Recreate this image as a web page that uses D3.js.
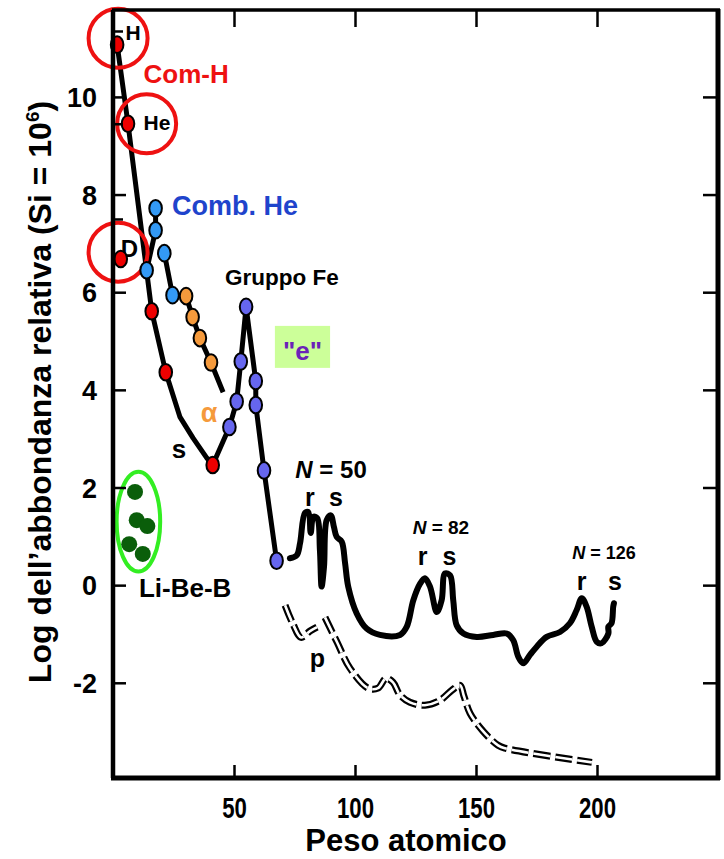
<!DOCTYPE html>
<html>
<head>
<meta charset="utf-8">
<script src="https://cdn.jsdelivr.net/npm/d3@7"></script>
<style>
  html, body { margin: 0; padding: 0; background: #fff; }
  svg text { font-family: "Liberation Sans", Arial, Helvetica, sans-serif; font-weight: bold; }
</style>
</head>
<body>
<svg id="chart" width="724" height="859"></svg>
<script>
// ---------------- DATA ----------------
const xTickValues = [50, 100, 150, 200];
const yTickValues = [-2, 0, 2, 4, 6, 8, 10];
const yMinorTicks = [11.35, 9.45, 7.5];

// Red points: H, D, He, and the s-branch
const redPoints = [
  {x: 1.7, y: 11.07}, {x: 3.2, y: 6.68}, {x: 6.2, y: 9.45},
  {x: 16.0, y: 5.61}, {x: 21.8, y: 4.36}, {x: 41.2, y: 2.46}
];
// main black connecting line (H -> He -> s-branch -> Fe group)
const mainLine = [
  [1.7, 11.07], [6.2, 9.45], [16.0, 5.61], [21.8, 4.36], [27.7, 3.44],
  [33.1, 3.01], [38.8, 2.60], [41.2, 2.46], [48.1, 3.24], [51.1, 3.76],
  [52.8, 4.58], [55.0, 5.70], [59.0, 4.18], [59.0, 3.69], [62.4, 2.35], [67.6, 0.50]
];
// "e" process / iron group (blue-violet)
const ePoints = [
  {x: 48.1, y: 3.24}, {x: 51.1, y: 3.76}, {x: 52.8, y: 4.58}, {x: 55.0, y: 5.70},
  {x: 59.0, y: 4.18}, {x: 59.0, y: 3.69}, {x: 62.4, y: 2.35}, {x: 67.6, y: 0.50}
];
// He burning (light blue)
const heLineA = [[13.9, 6.45], [17.6, 7.27], [17.6, 7.72]];
const heLineB = [[21.2, 6.80], [24.6, 5.94], [30.2, 5.92], [32.9, 5.49], [35.9, 5.06], [40.5, 4.56], [45.5, 3.95]];
const hePoints = [
  {x: 13.9, y: 6.45}, {x: 17.6, y: 7.27}, {x: 17.6, y: 7.72}, {x: 21.2, y: 6.80}, {x: 24.6, y: 5.94}
];
// alpha nuclei (orange)
const alphaPoints = [
  {x: 30.2, y: 5.92}, {x: 32.9, y: 5.49}, {x: 35.9, y: 5.06}, {x: 40.5, y: 4.56}
];
// Li-Be-B (dark green)
const liBeBPoints = [
  {x: 9.1, y: 1.91}, {x: 9.8, y: 1.33}, {x: 14.2, y: 1.21}, {x: 6.7, y: 0.84}, {x: 12.3, y: 0.64}
];
const liBeBEllipse = {cx: 10.5, cy: 1.30, rx: 9.0, ry: 1.02};

// heavy elements curve (r & s peaks)
const heavyCurve = [
  [73.1, 0.55], [75.9, 0.61], [77.3, 0.86], [79.3, 1.48], [80.7, 1.50], [81.7, 1.07],
  [82.8, 1.40], [84.4, 1.37], [85.5, 0.72], [86.2, -0.03], [87.2, 0.38], [88.3, 1.33],
  [90.0, 1.43], [91.3, 1.19], [92.4, 0.99], [94.5, 0.89], [95.9, 0.45], [97.2, -0.03],
  [100.7, -0.58], [104.8, -0.89], [110.3, -1.02], [118.6, -1.02], [121.4, -0.85],
  [124.1, -0.31], [126.9, 0.03], [128.9, 0.14], [131.0, -0.03], [133.8, -0.55],
  [135.8, -0.31], [137.2, 0.24], [139.3, 0.20], [140.6, -0.31], [142.0, -0.82],
  [144.8, -0.99], [150.3, -1.06], [157.1, -1.02], [162.7, -0.99], [165.4, -1.13],
  [167.5, -1.47], [169.5, -1.60], [172.3, -1.43], [175.1, -1.26], [179.2, -1.06],
  [184.7, -0.96], [188.8, -0.78], [191.6, -0.51], [193.7, -0.27], [195.7, -0.44],
  [197.8, -0.85], [199.9, -1.16], [201.9, -1.19], [204.7, -0.99], [204.7, -0.85],
  [206.0, -0.78], [206.7, -0.44], [207.0, -0.37]
];
// p-process (double dashed)
const pCurveA = [[71.1, -0.41], [74.4, -0.80], [77.7, -1.07], [81.4, -0.94], [84.3, -0.86]];
const pCurveB = [
  [87.6, -0.66], [92.6, -1.17], [97.9, -1.70], [105.4, -2.11], [109.5, -2.11],
  [112.8, -1.91], [115.7, -1.99], [118.6, -2.25], [122.7, -2.40], [128.9, -2.46],
  [135.1, -2.36], [140.1, -2.15], [143.4, -2.05], [145.0, -2.27], [147.5, -2.62],
  [152.9, -2.99], [159.1, -3.28], [162.0, -3.34], [197.9, -3.63]
];
// open red circles (H, He, D)
const bigCircles = [{x: 2.1, y: 11.2}, {x: 13.9, y: 9.45}, {x: 2.1, y: 6.82}];

// ---------------- DRAW ----------------
const svg = d3.select("#chart");
const x = d3.scaleLinear().domain([0, 250]).range([113, 718]);
const y = d3.scaleLinear().domain([-3.95, 11.78]).range([778, 10]);
const FONT = '"Liberation Sans", Arial, Helvetica, sans-serif';

const line = d3.line().x(d => x(d[0])).y(d => y(d[1]));
const smooth = d3.line().x(d => x(d[0])).y(d => y(d[1])).curve(d3.curveCatmullRom.alpha(0.5));

// p-process double dashed line
[pCurveA, pCurveB].forEach(c => {
  svg.append("path").attr("d", smooth(c)).attr("fill", "none")
    .attr("stroke", "#000").attr("stroke-width", 7).attr("stroke-dasharray", "17,5");
  svg.append("path").attr("d", smooth(c)).attr("fill", "none")
    .attr("stroke", "#fff").attr("stroke-width", 2.6).attr("stroke-dasharray", "17,5");
});

// heavy curve
svg.append("path").attr("d", smooth(heavyCurve)).attr("fill", "none")
  .attr("stroke", "#000").attr("stroke-width", 6).attr("stroke-linecap", "round").attr("stroke-linejoin", "round");

// connecting lines
[mainLine, heLineA, heLineB].forEach(c => {
  svg.append("path").attr("d", line(c)).attr("fill", "none")
    .attr("stroke", "#000").attr("stroke-width", 5).attr("stroke-linejoin", "round");
});

// Li-Be-B ellipse
svg.append("ellipse")
  .attr("cx", x(liBeBEllipse.cx)).attr("cy", y(liBeBEllipse.cy))
  .attr("rx", x(liBeBEllipse.rx) - x(0)).attr("ry", y(0) - y(liBeBEllipse.ry))
  .attr("fill", "none").attr("stroke", "#33ee22").attr("stroke-width", 4);

svg.selectAll(".lib").data(liBeBPoints).enter().append("circle")
  .attr("cx", d => x(d.x)).attr("cy", d => y(d.y)).attr("r", 8)
  .attr("fill", "#0a5e0a");

// big open red circles
svg.selectAll(".big").data(bigCircles).enter().append("circle")
  .attr("cx", d => x(d.x)).attr("cy", d => y(d.y)).attr("r", 29.5)
  .attr("fill", "none").attr("stroke", "#ee1111").attr("stroke-width", 4);

// labels (text)
function label(txt, dx, dy, size, color, anchor) {
  return svg.append("text").attr("x", x(dx)).attr("y", y(dy))
    .attr("font-size", size).attr("fill", color || "#000")
    .attr("text-anchor", anchor || "middle").text(txt);
}
label("D", 6.8, 6.72, 24);

// markers
function markers(data, fill) {
  svg.selectAll(null).data(data).enter().append("ellipse")
    .attr("cx", d => x(d.x)).attr("cy", d => y(d.y)).attr("rx", 6.3).attr("ry", 8.3)
    .attr("fill", fill).attr("stroke", "#000").attr("stroke-width", 2);
}
markers(hePoints, "#3399f5");
markers(alphaPoints, "#f59a3c");
markers(ePoints, "#6666ee");
markers(redPoints, "#ee0000");

label("H", 8.3, 11.17, 21);
label("Com-H", 30.2, 10.29, 26, "#ee1111");
label("He", 18.2, 9.32, 21);
label("Comb. He", 50.4, 7.58, 27, "#1f44cc");
label("Gruppo Fe", 69.8, 6.15, 22.5);

// "e" box
svg.append("rect").attr("x", x(66.9)).attr("y", y(5.31))
  .attr("width", x(89.7) - x(66.9)).attr("height", y(4.45) - y(5.31)).attr("fill", "#ccff99");
label('"e"', 78.3, 4.61, 26, "#6a22b8");

label("\u03b1", 39.7, 3.34, 27, "#f59a3c");
label("s", 27.3, 2.60, 26);
label("Li-Be-B", 29.8, -0.25, 26);

function nLabel(num, dx, dy, size) {
  const t = svg.append("text").attr("x", x(dx)).attr("y", y(dy)).attr("font-size", size)
    .attr("text-anchor", "middle").attr("fill", "#000");
  t.append("tspan").attr("font-style", "italic").text("N");
  t.append("tspan").text(" = " + num);
}
nLabel("50", 90.1, 2.2, 24);
label("r", 81.4, 1.62, 25);
label("s", 92.1, 1.62, 25);
nLabel("82", 135.5, 1.04, 19);
label("r", 127.9, 0.41, 25);
label("s", 139.0, 0.41, 25);
nLabel("126", 202.9, 0.53, 18);
label("r", 193.6, -0.10, 25);
label("s", 207.4, -0.10, 25);
label("p", 84.5, -1.68, 25);

// ---------------- AXES / FRAME ----------------
const axB = svg.append("g").attr("transform", `translate(0,${y.range()[0]})`)
  .call(d3.axisBottom(x).tickValues(xTickValues).tickSize(-13).tickPadding(19).tickSizeOuter(0));
axB.select(".domain").remove();
axB.selectAll("line").attr("stroke", "#000").attr("stroke-width", 2.5);
axB.selectAll("text").attr("font-size", 30).attr("font-family", FONT).attr("font-weight", "bold")
  .attr("fill", "#000").attr("transform", "scale(0.74,1)").attr("dy", "0.71em");

const axT = svg.append("g").attr("transform", `translate(0,${y.range()[1]})`)
  .call(d3.axisTop(x).tickValues(xTickValues).tickSize(-17).tickFormat("").tickSizeOuter(0));
axT.select(".domain").remove();
axT.selectAll("line").attr("stroke", "#000").attr("stroke-width", 2.5);

const axL = svg.append("g").attr("transform", `translate(${x.range()[0]},0)`)
  .call(d3.axisLeft(y).tickValues(yTickValues).tickSize(-13).tickPadding(16).tickSizeOuter(0)
    .tickFormat(d => String(d)));
axL.select(".domain").remove();
axL.selectAll("line").attr("stroke", "#000").attr("stroke-width", 2.5);
axL.selectAll("text").attr("font-size", 27).attr("font-family", FONT).attr("font-weight", "bold")
  .attr("fill", "#000").attr("dy", "0.36em");

const axLm = svg.append("g").attr("transform", `translate(${x.range()[0]},0)`)
  .call(d3.axisLeft(y).tickValues(yMinorTicks).tickSize(-10).tickFormat("").tickSizeOuter(0));
axLm.select(".domain").remove();
axLm.selectAll("line").attr("stroke", "#000").attr("stroke-width", 2.5);

const axR = svg.append("g").attr("transform", `translate(${x.range()[1]},0)`)
  .call(d3.axisRight(y).tickValues(yTickValues).tickSize(-15).tickFormat("").tickSizeOuter(0));
axR.select(".domain").remove();
axR.selectAll("line").attr("stroke", "#000").attr("stroke-width", 2.5);

// frame
const [x0, x1] = x.range(), [yb, yt] = y.range();
svg.append("line").attr("x1", x0 - 1).attr("x2", x1 + 2).attr("y1", yt).attr("y2", yt).attr("stroke", "#000").attr("stroke-width", 3.5);
svg.append("line").attr("x1", x0 - 2).attr("x2", x1 + 2).attr("y1", yb).attr("y2", yb).attr("stroke", "#000").attr("stroke-width", 5);
svg.append("line").attr("x1", x0).attr("x2", x0).attr("y1", yt).attr("y2", yb).attr("stroke", "#000").attr("stroke-width", 4.5);
svg.append("line").attr("x1", x1).attr("x2", x1).attr("y1", yt - 1).attr("y2", yb + 2).attr("stroke", "#000").attr("stroke-width", 5);

// axis titles
svg.append("text").attr("x", 406).attr("y", 851)
  .attr("text-anchor", "middle").attr("font-size", 31)
  .text("Peso atomico");

const yt2 = svg.append("text").attr("text-anchor", "middle").attr("font-size", 32)
  .attr("transform", "translate(51,392) rotate(-90)");
yt2.append("tspan").text("Log dell\u2019abbondanza relativa (Si = 10");
yt2.append("tspan").attr("font-size", 19).attr("dy", -12).text("6");
yt2.append("tspan").attr("dy", 12).text(")");
</script>
</body>
</html>
